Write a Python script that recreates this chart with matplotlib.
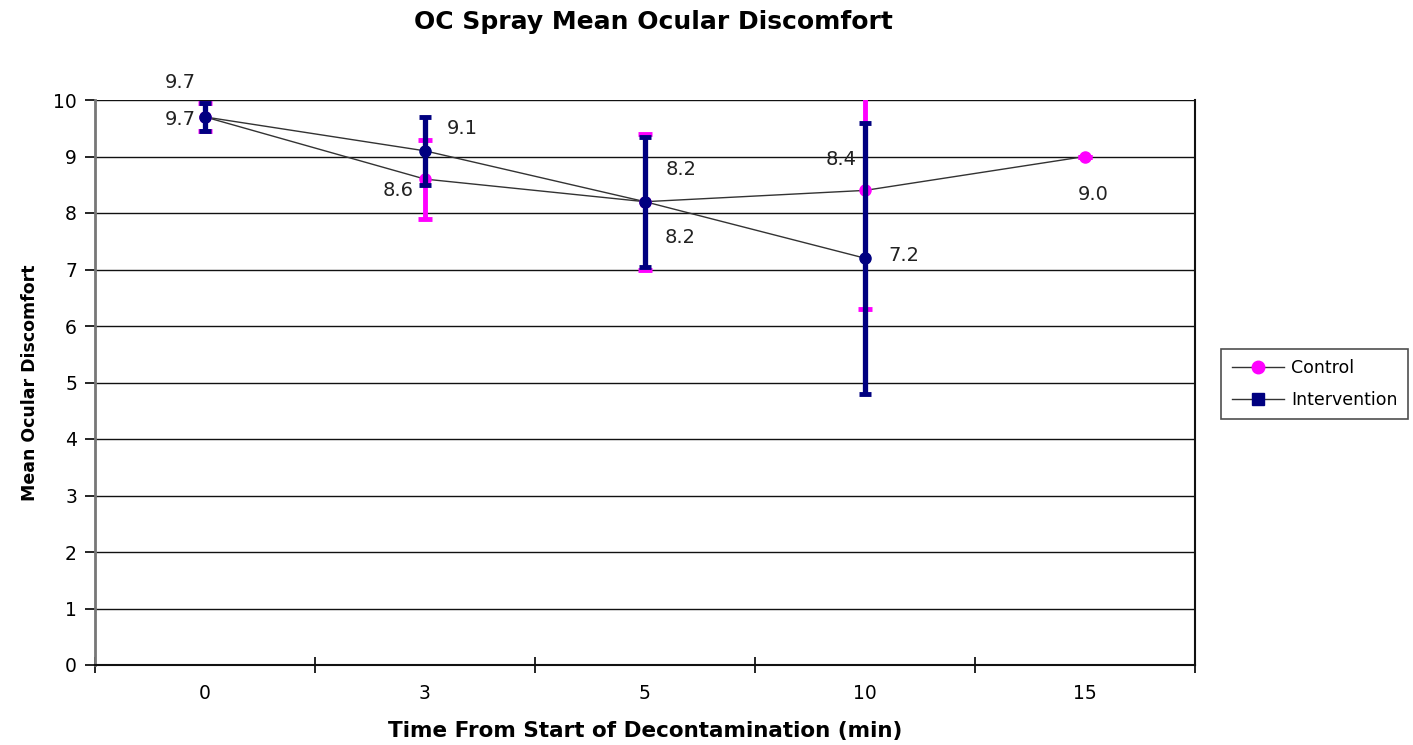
import matplotlib
matplotlib.use("Agg")
import matplotlib.pyplot as plt
from matplotlib.lines import Line2D
import numpy as np

plt.rcParams['font.family'] = ['DejaVu Sans']

categories = ["0", "3", "5", "10", "15"]
control = [9.7, 8.6, 8.2, 8.4, 9.0]
control_err = [0.25, 0.7, 1.2, 2.1, 0.0]
intervention = [9.7, 9.1, 8.2, 7.2]
intervention_err = [0.25, 0.6, 1.15, 2.4]

# label offsets (points)
control_offsets = [(-18, 25), (-19, -8), (26, 23), (-17, 22), (6, -27)]
intervention_offsets = [(-18, -2), (27, 16), (25, -26), (28, 2)]

fig = plt.figure(figsize=(14.13, 7.45), dpi=100)
ax = fig.add_axes([95/1413, 80/745, 1100/1413, 565/745])

xc = np.arange(len(categories))
xi = np.arange(len(intervention))

ax.plot(xc, control, color='#333333', lw=1.0, zorder=3)
ax.plot(xi, intervention, color='#333333', lw=1.0, zorder=3)
ax.errorbar(xc, control, yerr=control_err, fmt='none', ecolor='#ff00ff',
            elinewidth=3.5, capsize=5, capthick=3.5, zorder=4, clip_on=True)
ax.plot(xc, control, 'o', color='#ff00ff', ms=8, zorder=5)
ax.errorbar(xi, intervention, yerr=intervention_err, fmt='none', ecolor='#000080',
            elinewidth=3.8, capsize=4.5, capthick=3.5, zorder=6)
ax.plot(xi, intervention, 'o', color='#000080', ms=8, zorder=7)

for x, v, off in zip(xc, control, control_offsets):
    ax.annotate(f"{v:.1f}", (x, v), xytext=off, textcoords='offset points',
                ha='center', va='center', fontsize=14, color='#222222', zorder=8)
for x, v, off in zip(xi, intervention, intervention_offsets):
    ax.annotate(f"{v:.1f}", (x, v), xytext=off, textcoords='offset points',
                ha='center', va='center', fontsize=14, color='#222222', zorder=8,
                annotation_clip=False)

ax.set_xlim(-0.5, len(categories) - 0.5)
ax.set_ylim(0, 10)
ax.set_yticks(range(0, 11))
ax.yaxis.grid(True, color='#111111', lw=1.0)
ax.set_axisbelow(True)
ax.set_xticks(xc)
ax.set_xticklabels(categories)
ax.set_xticks(np.arange(-0.5, len(categories)), minor=True)
ax.tick_params(axis='x', which='major', length=0, labelsize=13.5, pad=14)
ax.tick_params(axis='x', which='minor', direction='inout', length=12, width=1.2)
ax.tick_params(axis='y', length=7, width=1.2, labelsize=13.5, pad=6)

for s in ['top']:
    ax.spines[s].set_visible(False)
ax.spines['right'].set_color('#111111')
ax.spines['right'].set_linewidth(1.5)
ax.spines['bottom'].set_color('#111111')
ax.spines['bottom'].set_linewidth(1.5)
ax.spines['left'].set_color('#777777')
ax.spines['left'].set_linewidth(2.0)

ax.set_xlabel("Time From Start of Decontamination (min)", fontsize=15.5,
              fontweight='bold', labelpad=13)
ax.set_ylabel("Mean Ocular Discomfort", fontsize=12.5, fontweight='bold', labelpad=10)
fig.suptitle("OC Spray Mean Ocular Discomfort", fontsize=18, fontweight='bold',
             x=653/1413, y=1 - 22/745, va='center')

handles = [Line2D([], [], color='#333333', lw=1, marker='o', mfc='#ff00ff',
                  mec='#ff00ff', ms=9),
           Line2D([], [], color='#333333', lw=1, marker='s', mfc='#000080',
                  mec='#000080', ms=8)]
leg = fig.legend(handles, ["Control", "Intervention"], loc='center left',
                 bbox_to_anchor=(1218/1413, 1 - 384/745), fontsize=12.5,
                 frameon=True, fancybox=False, edgecolor='#222222',
                 handlelength=3.0, borderpad=0.6, labelspacing=0.8,
                 handletextpad=0.4, borderaxespad=0.2)
leg.get_frame().set_linewidth(1.2)

fig.savefig("out.png", dpi=100)
